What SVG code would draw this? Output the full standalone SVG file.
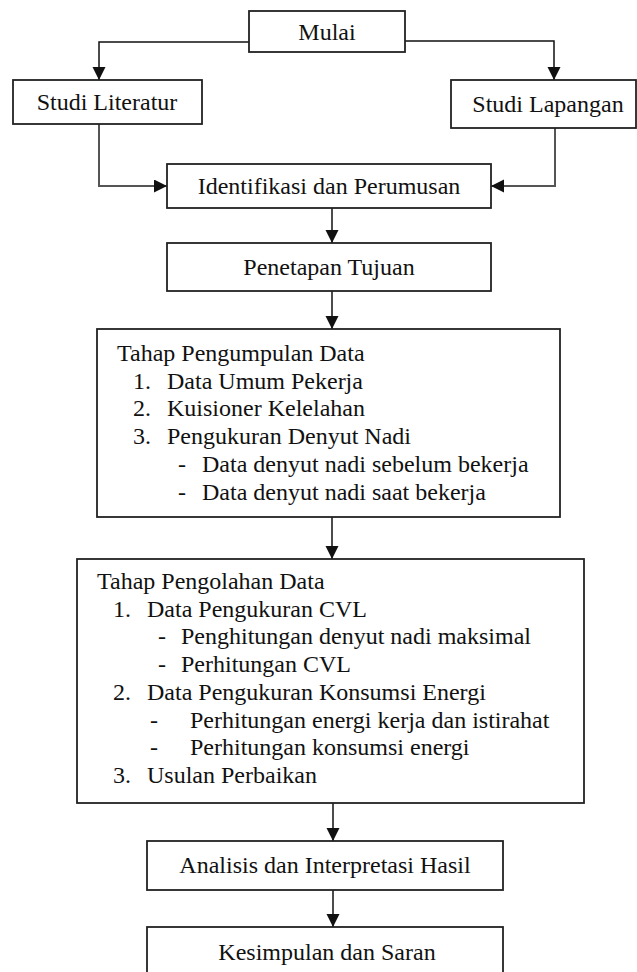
<svg xmlns="http://www.w3.org/2000/svg" width="637" height="972" viewBox="0 0 637 972">
<style>
.box{fill:#fff;stroke:#222;stroke-width:1.8}
text{font-family:'Liberation Serif','Times New Roman',serif;font-size:24px;fill:#111}
.c{text-anchor:middle}
.ln{fill:none;stroke:#111;stroke-width:1.5}
.lg{fill:none;stroke:#555;stroke-width:2}
</style>
<defs>
<marker id="ah" markerUnits="userSpaceOnUse" markerWidth="14" markerHeight="14" refX="13" refY="6.5" orient="auto">
<path d="M0,0 L13,6.5 L0,13 z" fill="#111"/>
</marker>
</defs>
<rect width="637" height="972" fill="#fff"/>
<g id="connectors">
<path class="ln" d="M249,42 H99 V80" marker-end="url(#ah)"/>
<path class="ln" d="M405,41 H554 V80" marker-end="url(#ah)"/>
<path class="lg" d="M99,124 V186 H167" marker-end="url(#ah)"/>
<path class="lg" d="M555,128 V186 H491" marker-end="url(#ah)"/>
<path class="ln" d="M332,208 V243" marker-end="url(#ah)"/>
<path class="ln" d="M332,291 V329" marker-end="url(#ah)"/>
<path class="ln" d="M332,517 V559" marker-end="url(#ah)"/>
<path class="ln" d="M333,803 V841" marker-end="url(#ah)"/>
<path class="ln" d="M333,890 V927" marker-end="url(#ah)"/>
</g>
<g id="mulai">
<rect class="box" x="249" y="11" width="156" height="41"/>
<text class="c" x="327" y="40">Mulai</text>
</g>
<g id="studi-literatur">
<rect class="box" x="13" y="80" width="189" height="44"/>
<text class="c" x="107" y="110">Studi Literatur</text>
</g>
<g id="studi-lapangan">
<rect class="box" x="451" y="80" width="185" height="48"/>
<text class="c" x="548" y="112">Studi Lapangan</text>
</g>
<g id="identifikasi">
<rect class="box" x="167" y="164" width="324" height="44"/>
<text class="c" x="329" y="194">Identifikasi dan Perumusan</text>
</g>
<g id="penetapan">
<rect class="box" x="167" y="243" width="324" height="48"/>
<text class="c" x="329" y="275">Penetapan Tujuan</text>
</g>
<g id="pengumpulan">
<rect class="box" x="97" y="329" width="463" height="188"/>
<text x="117" y="361">Tahap Pengumpulan Data</text>
<text x="133" y="388.7">1.</text><text x="167" y="388.7">Data Umum Pekerja</text>
<text x="133" y="416.4">2.</text><text x="167" y="416.4">Kuisioner Kelelahan</text>
<text x="133" y="444.1">3.</text><text x="167" y="444.1">Pengukuran Denyut Nadi</text>
<text x="178" y="471.8">-</text><text x="202" y="471.8">Data denyut nadi sebelum bekerja</text>
<text x="178" y="499.5">-</text><text x="202" y="499.5">Data denyut nadi saat bekerja</text>
</g>
<g id="pengolahan">
<rect class="box" x="77" y="559" width="507" height="244"/>
<text x="97" y="589">Tahap Pengolahan Data</text>
<text x="113" y="616.7">1.</text><text x="147" y="616.7">Data Pengukuran CVL</text>
<text x="158" y="644.4">-</text><text x="181" y="644.4">Penghitungan denyut nadi maksimal</text>
<text x="158" y="672.1">-</text><text x="181" y="672.1">Perhitungan CVL</text>
<text x="113" y="699.8">2.</text><text x="147" y="699.8">Data Pengukuran Konsumsi Energi</text>
<text x="150" y="727.5">-</text><text x="190" y="727.5">Perhitungan energi kerja dan istirahat</text>
<text x="150" y="755.2">-</text><text x="190" y="755.2">Perhitungan konsumsi energi</text>
<text x="113" y="782.9">3.</text><text x="147" y="782.9">Usulan Perbaikan</text>
</g>
<g id="analisis">
<rect class="box" x="147" y="841" width="356" height="49"/>
<text class="c" x="325" y="873">Analisis dan Interpretasi Hasil</text>
</g>
<g id="kesimpulan">
<rect class="box" x="147" y="927" width="356" height="60"/>
<text class="c" x="327" y="960">Kesimpulan dan Saran</text>
</g>
</svg>
